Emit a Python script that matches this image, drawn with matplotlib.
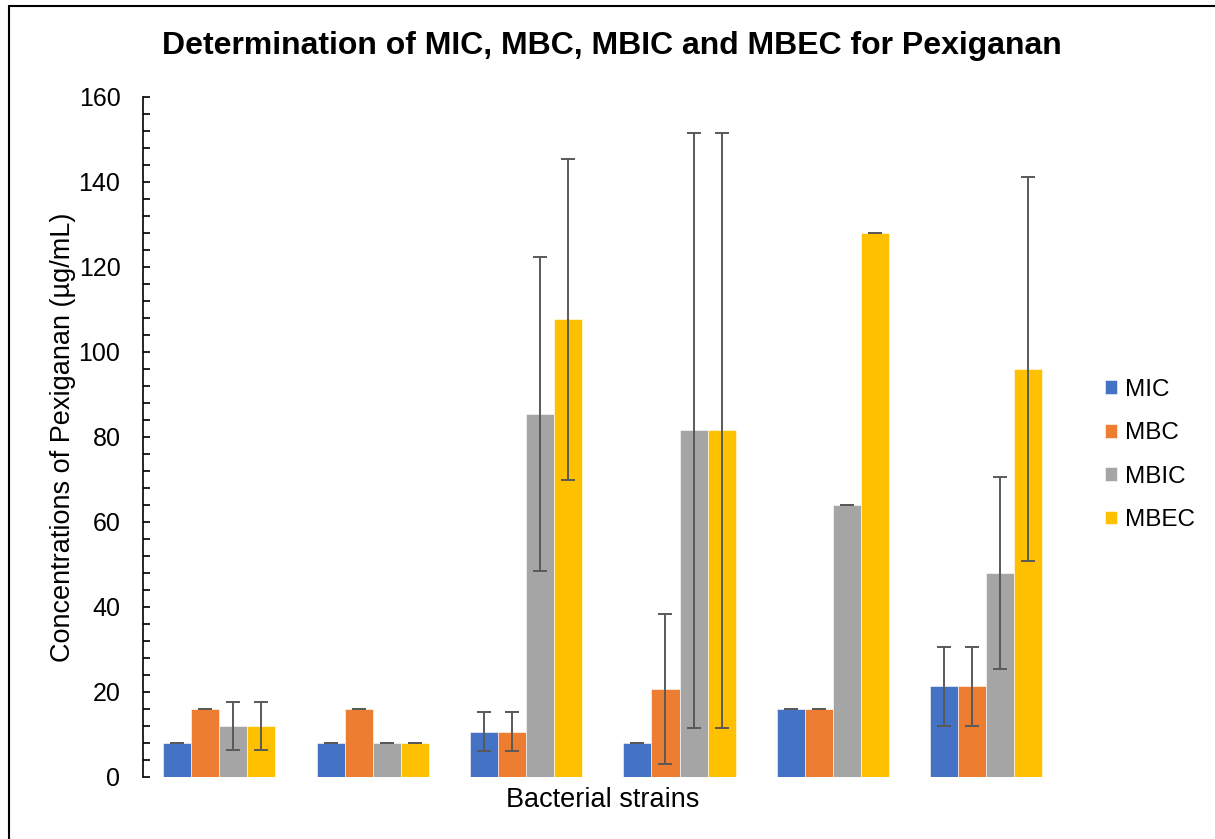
import numpy as np
import matplotlib
matplotlib.use("Agg")
import matplotlib.pyplot as plt
from matplotlib.patches import Rectangle
from matplotlib.ticker import MultipleLocator

plt.rcParams["font.family"] = ["Liberation Sans", "DejaVu Sans"]

# data (µg/mL, mean and error)
strains = ["1", "2", "3", "4", "5", "6"]
series = ["MIC", "MBC", "MBIC", "MBEC"]
colors = ["#4472C4", "#ED7D31", "#A5A5A5", "#FFC000"]
mic = [8, 8, 10.67, 8, 16, 21.33]
mic_err = [0, 0, 4.62, 0, 0, 9.24]
mbc = [16, 16, 10.67, 20.67, 16, 21.33]
mbc_err = [0, 0, 4.62, 17.7, 0, 9.24]
mbic = [12, 8, 85.33, 81.6, 64, 48]
mbic_err = [5.66, 0, 36.95, 70.0, 0, 22.63]
mbec = [12, 8, 107.7, 81.6, 128, 96]
mbec_err = [5.66, 0, 37.8, 70.0, 0, 45.25]

values = [mic, mbc, mbic, mbec]
errors = [mic_err, mbc_err, mbic_err, mbec_err]

fig = plt.figure(figsize=(12.15, 8.39), dpi=100)
ax = fig.add_axes([0.1174, 0.0739, 0.7575, 0.8105])

x = np.arange(len(strains))
w = 0.183
for k, (name, vals, errs, c) in enumerate(zip(series, values, errors, colors)):
    pos = x + (k - 1.5) * w
    ax.bar(pos, vals, w, color=c, edgecolor="white", linewidth=0.4, label=name, zorder=2)
    ax.errorbar(pos, vals, yerr=errs, fmt="none", ecolor="#595959", elinewidth=1.4,
                capsize=4.7, capthick=1.4, zorder=3)

ax.set_xlim(-0.5, len(strains) - 0.5)
ax.set_ylim(0, 160)
ax.yaxis.set_major_locator(MultipleLocator(20))
ax.yaxis.set_minor_locator(MultipleLocator(4))
ax.tick_params(axis="y", which="both", direction="in", length=5, width=1.2, labelsize=18, pad=16)
ax.set_xticks([])
for s in ("top", "right", "bottom"):
    ax.spines[s].set_visible(False)
ax.spines["left"].set_linewidth(1.2)

ax.set_ylabel("Concentrations of Pexiganan (µg/mL)", fontsize=19.5, labelpad=2)
ax.set_xlabel("Bacterial strains", fontsize=19.5, labelpad=7)
fig.text(612 / 1215, 1 - 46 / 839, "Determination of MIC, MBC, MBIC and MBEC for Pexiganan",
         ha="center", va="center", fontsize=23, fontweight="bold")

ax.legend(loc="center left", bbox_to_anchor=(1.022, 0.4735), frameon=False, fontsize=17.5,
          handlelength=0.5, handleheight=0.5, handletextpad=0.3, labelspacing=0.88)

fig.patches.append(Rectangle((9 / 1215, -0.05), 1.1, 1 - 6 / 839 + 0.05, transform=fig.transFigure,
                             fill=False, edgecolor="black", linewidth=1.5))

fig.savefig("out.png", dpi=100)
